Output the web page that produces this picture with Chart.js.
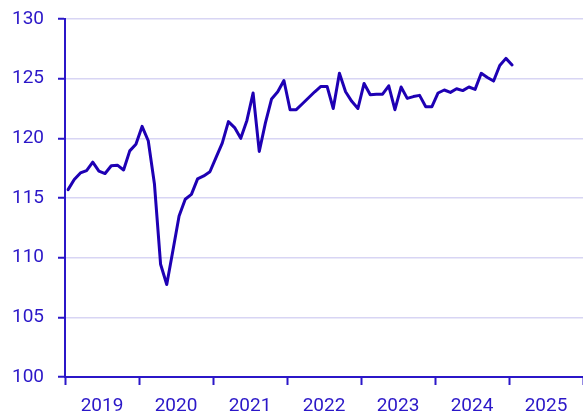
<!DOCTYPE html>
<html>
<head>
<meta charset="utf-8">
<script src="https://cdn.jsdelivr.net/npm/chart.js@4/dist/chart.umd.min.js"></script>
<style>
html,body{margin:0;padding:0;background:#fff;overflow:hidden;}
#c{display:block;}
</style>
</head>
<body>
<canvas id="c" width="583" height="414"></canvas>
<script>
// Monthly index values, Jan 2019 .. Jan 2025
const years = ["2019","2020","2021","2022","2023","2024","2025"];
const values2019 = [115.7,116.55,117.1,117.3,118.0,117.25,117.05,117.7,117.75,117.35,118.95,119.5];
const values2020 = [121.0,119.8,116.2,109.45,107.75,110.6,113.5,114.9,115.3,116.6,116.85,117.2];
const values2021 = [118.4,119.6,121.4,120.9,120.0,121.5,123.8,118.9,121.3,123.3,123.9,124.85];
const values2022 = [122.4,122.4,122.9,123.4,123.9,124.35,124.35,122.5,125.45,123.9,123.1,122.5];
const values2023 = [124.6,123.65,123.7,123.7,124.4,122.4,124.3,123.35,123.5,123.6,122.65,122.65];
const values2024 = [123.8,124.05,123.85,124.15,124.0,124.3,124.1,125.45,125.1,124.8,126.1,126.7];
const values2025 = [126.15];
const yTicks = [100,105,110,115,120,125,130];

const allValues = [].concat(values2019,values2020,values2021,values2022,values2023,values2024,values2025);
const points = allValues.map((v,i)=>({x:i+0.5,y:v}));

const lineColor = '#1e00b4';
const axisColor = '#2b17c8';
const textColor = '#2b17c8';
const gridColor = '#d8d5f4';

new Chart(document.getElementById('c'), {
  type: 'line',
  data: {
    datasets: [{
      data: points,
      borderColor: lineColor,
      borderWidth: 3,
      pointRadius: 0,
      tension: 0,
      fill: false,
      borderJoinStyle: 'round',
      borderCapStyle: 'round'
    }]
  },
  options: {
    responsive: false,
    devicePixelRatio: 1,
    animation: false,
    layout: {padding: {top: 19, right: 0, left: 0, bottom: 0}},
    plugins: {legend: {display: false}, tooltip: {enabled: false}},
    scales: {
      x: {
        type: 'linear',
        min: 0,
        max: years.length * 12,
        afterBuildTicks: (scale) => {
          const t = [];
          for (let v = 0; v <= years.length * 12; v += 6) t.push({value: v});
          scale.ticks = t;
        },
        afterFit: (scale) => {
          scale.height = 37;
          scale.paddingLeft = 0; scale.paddingRight = 0;
          scale.paddingTop = 0; scale.paddingBottom = 0;
        },
        ticks: {
          autoSkip: false,
          maxRotation: 0,
          color: textColor,
          font: {family: 'Roboto', size: 19},
          padding: 10,
          callback: (v) => (v % 12 === 6) ? years[(v - 6) / 12] : ''
        },
        grid: {
          drawOnChartArea: false,
          drawTicks: true,
          tickLength: 8,
          tickWidth: 2,
          tickColor: (ctx) => (ctx.tick && ctx.tick.value % 12 === 0) ? axisColor : 'rgba(0,0,0,0)'
        },
        border: {display: true, color: axisColor, width: 2}
      },
      y: {
        min: 100,
        max: 130,
        afterBuildTicks: (scale) => { scale.ticks = yTicks.map(v => ({value: v})); },
        afterFit: (scale) => {
          scale.width = 65;
          scale.paddingTop = 0; scale.paddingBottom = 0;
          scale.paddingLeft = 0; scale.paddingRight = 0;
        },
        ticks: {
          color: textColor,
          font: {family: 'Roboto', size: 19},
          padding: 14
        },
        grid: {
          color: gridColor,
          lineWidth: 1.5,
          tickLength: 7,
          tickColor: axisColor,
          tickWidth: 2
        },
        border: {display: true, color: axisColor, width: 2}
      }
    }
  }
});
</script>
</body>
</html>
